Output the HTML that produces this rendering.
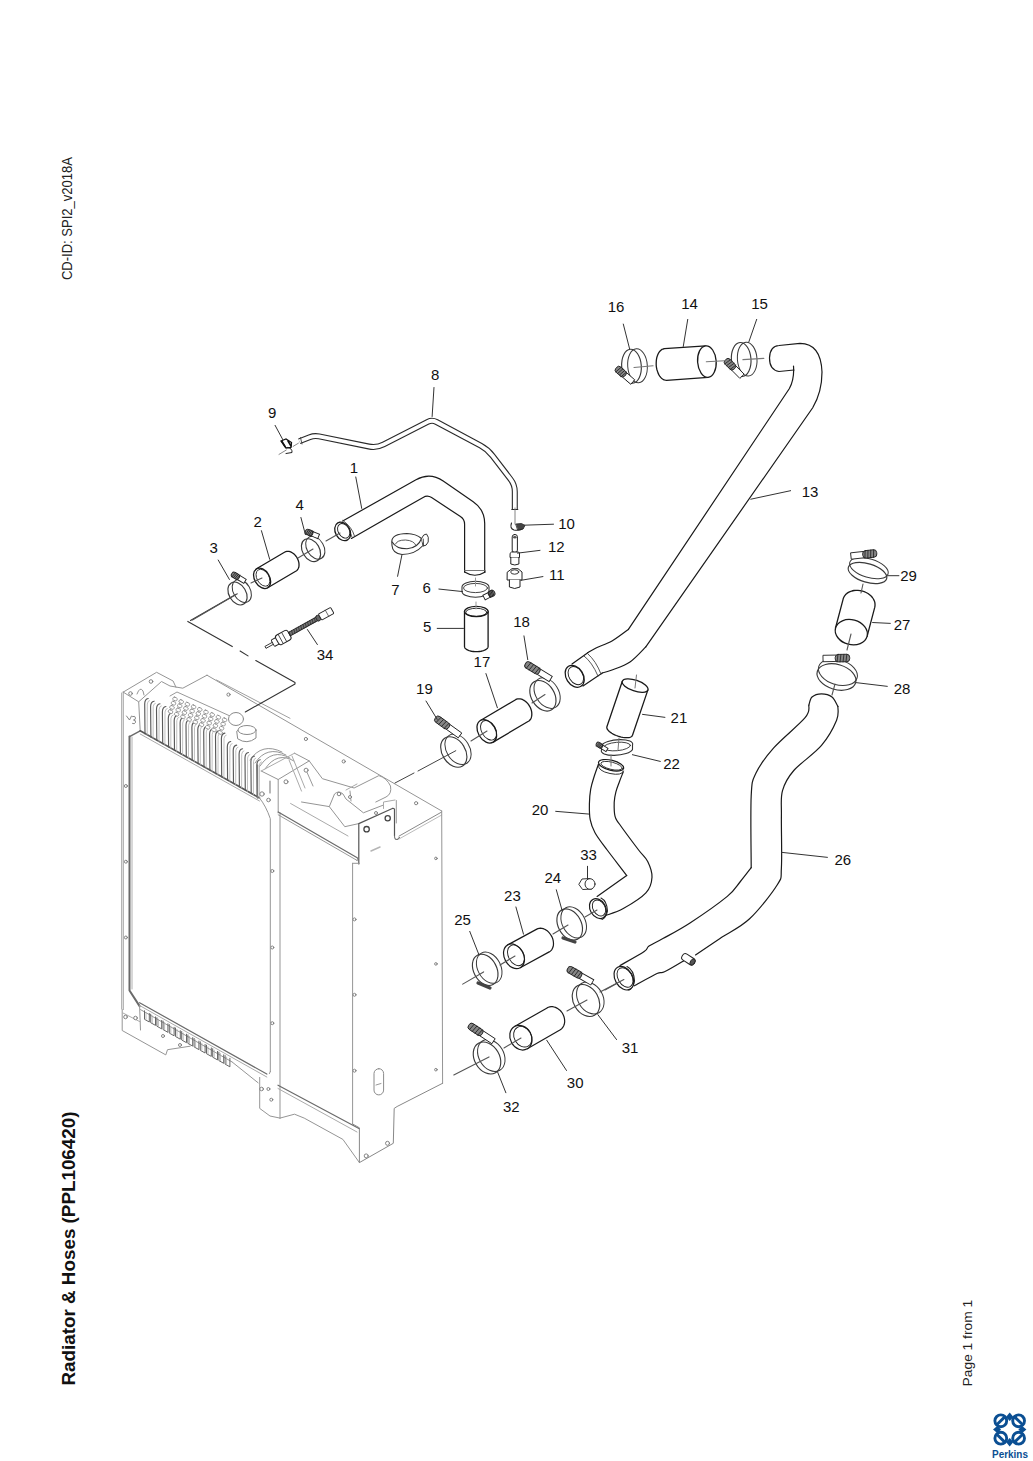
<!DOCTYPE html>
<html><head><meta charset="utf-8">
<style>
html,body{margin:0;padding:0;background:#fff;}
body{width:1033px;height:1461px;position:relative;overflow:hidden;font-family:"Liberation Sans",sans-serif;}
svg{position:absolute;left:0;top:0;}
</style></head>
<body>
<svg width="1033" height="1461" viewBox="0 0 1033 1461">
<g font-family="Liberation Sans, sans-serif">
<text transform="translate(72.1 280.1) rotate(-90)" font-size="14.2" fill="#222" textLength="123" lengthAdjust="spacingAndGlyphs">CD-ID: SPI2_v2018A</text>
<text transform="translate(75.2 1385.5) rotate(-90)" font-size="17.7" font-weight="bold" fill="#111" textLength="274" lengthAdjust="spacingAndGlyphs">Radiator &amp; Hoses (PPL106420)</text>
<text transform="translate(971.9 1386.4) rotate(-90)" font-size="13.4" fill="#222" textLength="86.6" lengthAdjust="spacingAndGlyphs">Page 1 from 1</text>
</g>
<g stroke-linecap="round">
<polyline points="123.2,692.1 123.2,1009.6" stroke="#959595" stroke-width="1.0" fill="none" stroke-linejoin="round"/>
<polyline points="121.5,693.0 121.5,1009.0" stroke="#b5b5b5" stroke-width="1.0" fill="none" stroke-linejoin="round"/>
<polyline points="123.2,692.1 156.6,672.3 173.1,681.0 176.0,687.3" stroke="#959595" stroke-width="1.0" fill="none" stroke-linejoin="round"/>
<polyline points="123.2,692.1 138.7,701.8 140.2,730.8" stroke="#959595" stroke-width="1.0" fill="none" stroke-linejoin="round"/>
<polyline points="138.7,701.8 161.5,681.5 170.0,686.0 182.8,688.2 207.0,675.2" stroke="#959595" stroke-width="1.0" fill="none" stroke-linejoin="round"/>
<circle cx="130.5" cy="693.5" r="1.8" fill="#fff" stroke="#777" stroke-width="0.9"/>
<circle cx="151.0" cy="681.5" r="1.8" fill="#fff" stroke="#777" stroke-width="0.9"/>
<path d="M137,694 q3,-8 6,-3 l1,4" stroke="#888" fill="none" stroke-width="0.9"/>
<path d="M126.5,716 l3,4 l2,-4 M132.5,716.5 q3,-1 3,1.5 q0,2 -2,2 q2.5,0 2,2.5 q-1,2 -3,1" stroke="#777" fill="none" stroke-width="0.9"/>
<circle cx="125.9" cy="786.0" r="1.5" fill="#fff" stroke="#777" stroke-width="0.9"/>
<circle cx="125.9" cy="861.7" r="1.5" fill="#fff" stroke="#777" stroke-width="0.9"/>
<circle cx="125.9" cy="937.5" r="1.5" fill="#fff" stroke="#777" stroke-width="0.9"/>
<polyline points="207.0,675.2 441.7,811.0" stroke="#959595" stroke-width="1.0" fill="none" stroke-linejoin="round"/>
<polyline points="216.5,680.0 290.0,718.3" stroke="#a0a0a0" stroke-width="1.0" fill="none" stroke-linejoin="round"/>
<circle cx="228.5" cy="694.6" r="1.6" fill="#fff" stroke="#777" stroke-width="0.9"/>
<circle cx="305.9" cy="739.0" r="1.6" fill="#fff" stroke="#777" stroke-width="0.9"/>
<circle cx="343.7" cy="761.4" r="1.6" fill="#fff" stroke="#777" stroke-width="0.9"/>
<circle cx="416.1" cy="803.2" r="1.6" fill="#fff" stroke="#777" stroke-width="0.9"/>
<polyline points="129.5,736.6 129.5,990.5 139.6,1006.1" stroke="#6a6a6a" stroke-width="2.0" fill="none" stroke-linejoin="round"/>
<polyline points="132.0,737.0 132.0,989.0" stroke="#b0b0b0" stroke-width="1.0" fill="none" stroke-linejoin="round"/>
<polyline points="129.5,736.6 140.2,730.8" stroke="#6a6a6a" stroke-width="1.4" fill="none" stroke-linejoin="round"/>
<polyline points="140.2,730.8 259.5,798.0" stroke="#555" stroke-width="1.6" fill="none" stroke-linejoin="round"/>
<polyline points="140.2,734.0 259.5,801.0" stroke="#aaa" stroke-width="1.0" fill="none" stroke-linejoin="round"/>
<path d="M259.5,798 Q266,806 270.3,818.7 L270.3,1071.6" stroke="#959595" stroke-width="1" fill="none"/>
<polyline points="280.0,812.9 280.0,1118.1" stroke="#959595" stroke-width="1.0" fill="none" stroke-linejoin="round"/>
<path d="M145.0,733.8 L144.7,704.0 Q144.8,699.0 148.2,698.5" stroke="#5a5a5a" stroke-width="1.15" fill="none"/>
<path d="M147.2,734.8 L147.3,704.0 Q147.8,700.5 149.5,700.5" stroke="#b0b0b0" stroke-width="0.8" fill="none"/>
<path d="M150.9,737.1 L150.6,706.7 Q150.7,701.7 154.1,701.2" stroke="#5a5a5a" stroke-width="1.15" fill="none"/>
<path d="M153.1,738.1 L153.2,706.7 Q153.7,703.2 155.4,703.2" stroke="#b0b0b0" stroke-width="0.8" fill="none"/>
<path d="M156.8,740.5 L156.5,709.3 Q156.6,704.3 160.0,703.8" stroke="#5a5a5a" stroke-width="1.15" fill="none"/>
<path d="M159.0,741.5 L159.1,709.3 Q159.6,705.8 161.3,705.8" stroke="#b0b0b0" stroke-width="0.8" fill="none"/>
<path d="M162.7,743.8 L162.4,712.0 Q162.5,707.0 165.9,706.5" stroke="#5a5a5a" stroke-width="1.15" fill="none"/>
<path d="M164.9,744.8 L165.0,712.0 Q165.5,708.5 167.2,708.5" stroke="#b0b0b0" stroke-width="0.8" fill="none"/>
<path d="M168.6,747.1 L168.3,718.5 Q168.4,713.5 171.8,713.0" stroke="#5a5a5a" stroke-width="1.15" fill="none"/>
<path d="M170.8,748.1 L170.9,718.5 Q171.4,715.0 173.1,715.0" stroke="#b0b0b0" stroke-width="0.8" fill="none"/>
<path d="M174.5,750.4 L174.2,720.7 Q174.3,715.7 177.7,715.2" stroke="#5a5a5a" stroke-width="1.15" fill="none"/>
<path d="M176.7,751.4 L176.8,720.7 Q177.3,717.2 179.0,717.2" stroke="#b0b0b0" stroke-width="0.8" fill="none"/>
<path d="M180.4,753.7 L180.1,723.0 Q180.2,718.0 183.6,717.5" stroke="#5a5a5a" stroke-width="1.15" fill="none"/>
<path d="M182.6,754.7 L182.7,723.0 Q183.2,719.5 184.9,719.5" stroke="#b0b0b0" stroke-width="0.8" fill="none"/>
<path d="M186.3,757.1 L186.0,725.2 Q186.1,720.2 189.5,719.7" stroke="#5a5a5a" stroke-width="1.15" fill="none"/>
<path d="M188.5,758.1 L188.6,725.2 Q189.1,721.7 190.8,721.7" stroke="#b0b0b0" stroke-width="0.8" fill="none"/>
<path d="M192.2,760.4 L191.9,727.4 Q192.0,722.4 195.4,721.9" stroke="#5a5a5a" stroke-width="1.15" fill="none"/>
<path d="M194.4,761.4 L194.5,727.4 Q195.0,723.9 196.7,723.9" stroke="#b0b0b0" stroke-width="0.8" fill="none"/>
<path d="M198.1,763.7 L197.8,729.7 Q197.9,724.7 201.3,724.2" stroke="#5a5a5a" stroke-width="1.15" fill="none"/>
<path d="M200.3,764.7 L200.4,729.7 Q200.9,726.2 202.6,726.2" stroke="#b0b0b0" stroke-width="0.8" fill="none"/>
<path d="M204.0,767.0 L203.7,731.9 Q203.8,726.9 207.2,726.4" stroke="#5a5a5a" stroke-width="1.15" fill="none"/>
<path d="M206.2,768.0 L206.3,731.9 Q206.8,728.4 208.5,728.4" stroke="#b0b0b0" stroke-width="0.8" fill="none"/>
<path d="M209.9,770.4 L209.6,734.2 Q209.7,729.2 213.1,728.7" stroke="#5a5a5a" stroke-width="1.15" fill="none"/>
<path d="M212.1,771.4 L212.2,734.2 Q212.7,730.7 214.4,730.7" stroke="#b0b0b0" stroke-width="0.8" fill="none"/>
<path d="M215.8,773.7 L215.5,736.4 Q215.6,731.4 219.0,730.9" stroke="#5a5a5a" stroke-width="1.15" fill="none"/>
<path d="M218.0,774.7 L218.1,736.4 Q218.6,732.9 220.3,732.9" stroke="#b0b0b0" stroke-width="0.8" fill="none"/>
<path d="M221.7,777.0 L221.4,738.6 Q221.5,733.6 224.9,733.1" stroke="#5a5a5a" stroke-width="1.15" fill="none"/>
<path d="M223.9,778.0 L224.0,738.6 Q224.5,735.1 226.2,735.1" stroke="#b0b0b0" stroke-width="0.8" fill="none"/>
<path d="M227.6,780.3 L227.3,747.0 Q227.4,742.0 230.8,741.5" stroke="#5a5a5a" stroke-width="1.15" fill="none"/>
<path d="M229.8,781.3 L229.9,747.0 Q230.4,743.5 232.1,743.5" stroke="#b0b0b0" stroke-width="0.8" fill="none"/>
<path d="M233.5,783.6 L233.2,750.6 Q233.3,745.6 236.7,745.1" stroke="#5a5a5a" stroke-width="1.15" fill="none"/>
<path d="M235.7,784.6 L235.8,750.6 Q236.3,747.1 238.0,747.1" stroke="#b0b0b0" stroke-width="0.8" fill="none"/>
<path d="M239.4,787.0 L239.1,754.3 Q239.2,749.3 242.6,748.8" stroke="#5a5a5a" stroke-width="1.15" fill="none"/>
<path d="M241.6,788.0 L241.7,754.3 Q242.2,750.8 243.9,750.8" stroke="#b0b0b0" stroke-width="0.8" fill="none"/>
<path d="M245.3,790.3 L245.0,758.0 Q245.1,753.0 248.5,752.5" stroke="#5a5a5a" stroke-width="1.15" fill="none"/>
<path d="M247.5,791.3 L247.6,758.0 Q248.1,754.5 249.8,754.5" stroke="#b0b0b0" stroke-width="0.8" fill="none"/>
<path d="M251.2,793.6 L250.9,761.6 Q251.0,756.6 254.4,756.1" stroke="#5a5a5a" stroke-width="1.15" fill="none"/>
<path d="M253.4,794.6 L253.5,761.6 Q254.0,758.1 255.7,758.1" stroke="#b0b0b0" stroke-width="0.8" fill="none"/>
<path d="M257.1,796.9 L256.8,765.3 Q256.9,760.3 260.3,759.8" stroke="#5a5a5a" stroke-width="1.15" fill="none"/>
<path d="M259.3,797.9 L259.4,765.3 Q259.9,761.8 261.6,761.8" stroke="#b0b0b0" stroke-width="0.8" fill="none"/>
<rect x="172.8" y="697.4" width="4.4" height="3.2" rx="1.2" transform="rotate(25 175.0 699.0)" fill="#fff" stroke="#8a8a8a" stroke-width="0.8"/>
<rect x="179.0" y="700.0" width="4.4" height="3.2" rx="1.2" transform="rotate(25 181.2 701.6)" fill="#fff" stroke="#8a8a8a" stroke-width="0.8"/>
<rect x="185.2" y="702.6" width="4.4" height="3.2" rx="1.2" transform="rotate(25 187.4 704.2)" fill="#fff" stroke="#8a8a8a" stroke-width="0.8"/>
<rect x="191.4" y="705.2" width="4.4" height="3.2" rx="1.2" transform="rotate(25 193.6 706.8)" fill="#fff" stroke="#8a8a8a" stroke-width="0.8"/>
<rect x="197.6" y="707.8" width="4.4" height="3.2" rx="1.2" transform="rotate(25 199.8 709.4)" fill="#fff" stroke="#8a8a8a" stroke-width="0.8"/>
<rect x="203.8" y="710.4" width="4.4" height="3.2" rx="1.2" transform="rotate(25 206.0 712.0)" fill="#fff" stroke="#8a8a8a" stroke-width="0.8"/>
<rect x="210.0" y="713.0" width="4.4" height="3.2" rx="1.2" transform="rotate(25 212.2 714.6)" fill="#fff" stroke="#8a8a8a" stroke-width="0.8"/>
<rect x="216.2" y="715.6" width="4.4" height="3.2" rx="1.2" transform="rotate(25 218.4 717.2)" fill="#fff" stroke="#8a8a8a" stroke-width="0.8"/>
<rect x="222.4" y="718.2" width="4.4" height="3.2" rx="1.2" transform="rotate(25 224.6 719.8)" fill="#fff" stroke="#8a8a8a" stroke-width="0.8"/>
<rect x="171.3" y="701.6" width="4.4" height="3.2" rx="1.2" transform="rotate(25 173.5 703.2)" fill="#fff" stroke="#8a8a8a" stroke-width="0.8"/>
<rect x="177.5" y="704.2" width="4.4" height="3.2" rx="1.2" transform="rotate(25 179.7 705.8)" fill="#fff" stroke="#8a8a8a" stroke-width="0.8"/>
<rect x="183.7" y="706.8" width="4.4" height="3.2" rx="1.2" transform="rotate(25 185.9 708.4)" fill="#fff" stroke="#8a8a8a" stroke-width="0.8"/>
<rect x="189.9" y="709.4" width="4.4" height="3.2" rx="1.2" transform="rotate(25 192.1 711.0)" fill="#fff" stroke="#8a8a8a" stroke-width="0.8"/>
<rect x="196.1" y="712.0" width="4.4" height="3.2" rx="1.2" transform="rotate(25 198.3 713.6)" fill="#fff" stroke="#8a8a8a" stroke-width="0.8"/>
<rect x="202.3" y="714.6" width="4.4" height="3.2" rx="1.2" transform="rotate(25 204.5 716.2)" fill="#fff" stroke="#8a8a8a" stroke-width="0.8"/>
<rect x="208.5" y="717.2" width="4.4" height="3.2" rx="1.2" transform="rotate(25 210.7 718.8)" fill="#fff" stroke="#8a8a8a" stroke-width="0.8"/>
<rect x="214.7" y="719.8" width="4.4" height="3.2" rx="1.2" transform="rotate(25 216.9 721.4)" fill="#fff" stroke="#8a8a8a" stroke-width="0.8"/>
<rect x="220.9" y="722.4" width="4.4" height="3.2" rx="1.2" transform="rotate(25 223.1 724.0)" fill="#fff" stroke="#8a8a8a" stroke-width="0.8"/>
<rect x="169.8" y="705.8" width="4.4" height="3.2" rx="1.2" transform="rotate(25 172.0 707.4)" fill="#fff" stroke="#8a8a8a" stroke-width="0.8"/>
<rect x="176.0" y="708.4" width="4.4" height="3.2" rx="1.2" transform="rotate(25 178.2 710.0)" fill="#fff" stroke="#8a8a8a" stroke-width="0.8"/>
<rect x="182.2" y="711.0" width="4.4" height="3.2" rx="1.2" transform="rotate(25 184.4 712.6)" fill="#fff" stroke="#8a8a8a" stroke-width="0.8"/>
<rect x="188.4" y="713.6" width="4.4" height="3.2" rx="1.2" transform="rotate(25 190.6 715.2)" fill="#fff" stroke="#8a8a8a" stroke-width="0.8"/>
<rect x="194.6" y="716.2" width="4.4" height="3.2" rx="1.2" transform="rotate(25 196.8 717.8)" fill="#fff" stroke="#8a8a8a" stroke-width="0.8"/>
<rect x="200.8" y="718.8" width="4.4" height="3.2" rx="1.2" transform="rotate(25 203.0 720.4)" fill="#fff" stroke="#8a8a8a" stroke-width="0.8"/>
<rect x="207.0" y="721.4" width="4.4" height="3.2" rx="1.2" transform="rotate(25 209.2 723.0)" fill="#fff" stroke="#8a8a8a" stroke-width="0.8"/>
<rect x="213.2" y="724.0" width="4.4" height="3.2" rx="1.2" transform="rotate(25 215.4 725.6)" fill="#fff" stroke="#8a8a8a" stroke-width="0.8"/>
<rect x="219.4" y="726.6" width="4.4" height="3.2" rx="1.2" transform="rotate(25 221.6 728.2)" fill="#fff" stroke="#8a8a8a" stroke-width="0.8"/>
<rect x="168.3" y="710.0" width="4.4" height="3.2" rx="1.2" transform="rotate(25 170.5 711.6)" fill="#fff" stroke="#8a8a8a" stroke-width="0.8"/>
<rect x="174.5" y="712.6" width="4.4" height="3.2" rx="1.2" transform="rotate(25 176.7 714.2)" fill="#fff" stroke="#8a8a8a" stroke-width="0.8"/>
<rect x="180.7" y="715.2" width="4.4" height="3.2" rx="1.2" transform="rotate(25 182.9 716.8)" fill="#fff" stroke="#8a8a8a" stroke-width="0.8"/>
<rect x="186.9" y="717.8" width="4.4" height="3.2" rx="1.2" transform="rotate(25 189.1 719.4)" fill="#fff" stroke="#8a8a8a" stroke-width="0.8"/>
<rect x="193.1" y="720.4" width="4.4" height="3.2" rx="1.2" transform="rotate(25 195.3 722.0)" fill="#fff" stroke="#8a8a8a" stroke-width="0.8"/>
<rect x="199.3" y="723.0" width="4.4" height="3.2" rx="1.2" transform="rotate(25 201.5 724.6)" fill="#fff" stroke="#8a8a8a" stroke-width="0.8"/>
<rect x="205.5" y="725.6" width="4.4" height="3.2" rx="1.2" transform="rotate(25 207.7 727.2)" fill="#fff" stroke="#8a8a8a" stroke-width="0.8"/>
<rect x="211.7" y="728.2" width="4.4" height="3.2" rx="1.2" transform="rotate(25 213.9 729.8)" fill="#fff" stroke="#8a8a8a" stroke-width="0.8"/>
<rect x="217.9" y="730.8" width="4.4" height="3.2" rx="1.2" transform="rotate(25 220.1 732.4)" fill="#fff" stroke="#8a8a8a" stroke-width="0.8"/>
<polyline points="170.0,696.0 177.0,692.0 230.0,716.0" stroke="#999" stroke-width="1.0" fill="none" stroke-linejoin="round"/>
<path d="M250.0,760.0 Q262.0,742.0 282.0,752.0" stroke="#8a8a8a" stroke-width="0.9" fill="none"/>
<path d="M255.0,763.0 Q267.0,745.0 286.0,755.0" stroke="#8a8a8a" stroke-width="0.9" fill="none"/>
<path d="M260.0,766.0 Q272.0,748.0 290.0,758.0" stroke="#8a8a8a" stroke-width="0.9" fill="none"/>
<path d="M265.0,769.0 Q277.0,751.0 294.0,761.0" stroke="#8a8a8a" stroke-width="0.9" fill="none"/>
<polyline points="257.5,765.0 257.5,798.0" stroke="#777" stroke-width="1.3" fill="none" stroke-linejoin="round"/>
<polyline points="261.2,771.0 278.2,779.5 309.2,760.9" stroke="#959595" stroke-width="1.0" fill="none" stroke-linejoin="round"/>
<polyline points="261.2,771.0 294.5,753.2" stroke="#aaa" stroke-width="1.0" fill="none" stroke-linejoin="round"/>
<polyline points="278.2,779.5 278.2,812.9" stroke="#959595" stroke-width="1.0" fill="none" stroke-linejoin="round"/>
<circle cx="262.0" cy="794.0" r="2.2" fill="#fff" stroke="#777" stroke-width="0.9"/>
<circle cx="268.5" cy="800.0" r="1.8" fill="#fff" stroke="#777" stroke-width="0.9"/>
<path d="M270,781 l0,12" stroke="#888" stroke-width="1.2"/>
<ellipse cx="236" cy="719" rx="7.5" ry="6.5" fill="#fff" stroke="#8a8a8a" stroke-width="1"/>
<path d="M237,731 q9,-8 19,-1 l0,8 q-9,7 -18,1 z" fill="#fff" stroke="#8a8a8a" stroke-width="1"/>
<ellipse cx="247" cy="730" rx="9" ry="4.5" fill="#fff" stroke="#8a8a8a" stroke-width="1"/>
<path d="M294.5,753.2 L309.2,760.9 L322.4,778.7 L354.1,788 L378.9,775.6 Q386.7,778 390.5,786 Q392,794 386,797 L375.8,802" stroke="#959595" stroke-width="1" fill="none"/>
<path d="M301.5,802 L329.3,806.6 L334.5,794 Q338.5,790 343,794 L346,799 L363.4,812.8 L383.6,805" stroke="#959595" stroke-width="1" fill="none"/>
<polyline points="329.3,806.6 344.8,826.7 358.8,823.6" stroke="#959595" stroke-width="1.0" fill="none" stroke-linejoin="round"/>
<polyline points="290.6,803.5 348.0,836.0" stroke="#aaa" stroke-width="1.0" fill="none" stroke-linejoin="round"/>
<polyline points="289.1,760.1 301.5,791.1" stroke="#aaa" stroke-width="1.0" fill="none" stroke-linejoin="round"/>
<polyline points="292.0,756.0 305.0,788.0" stroke="#aaa" stroke-width="1.0" fill="none" stroke-linejoin="round"/>
<polyline points="306.0,770.0 313.0,786.0" stroke="#999" stroke-width="1.0" fill="none" stroke-linejoin="round"/>
<polyline points="350.0,791.0 351.0,801.0" stroke="#999" stroke-width="1.0" fill="none" stroke-linejoin="round"/>
<polyline points="346.0,790.0 357.0,784.0" stroke="#aaa" stroke-width="1.0" fill="none" stroke-linejoin="round"/>
<circle cx="286.0" cy="781.8" r="2.0" fill="#fff" stroke="#777" stroke-width="0.9"/>
<circle cx="306.1" cy="770.2" r="2.0" fill="#fff" stroke="#777" stroke-width="0.9"/>
<circle cx="339.0" cy="794.0" r="1.8" fill="#fff" stroke="#777" stroke-width="0.9"/>
<circle cx="350.0" cy="797.0" r="1.5" fill="#fff" stroke="#777" stroke-width="0.9"/>
<circle cx="376.0" cy="813.0" r="1.5" fill="#fff" stroke="#777" stroke-width="0.9"/>
<polyline points="278.2,812.0 357.2,857.7" stroke="#6a6a6a" stroke-width="1.2" fill="none" stroke-linejoin="round"/>
<polyline points="278.2,814.8 357.2,860.5" stroke="#999" stroke-width="1.0" fill="none" stroke-linejoin="round"/>
<path d="M357.2,857.7 q2,1.5 0,2.8" stroke="#777" stroke-width="1" fill="none"/>
<polyline points="358.8,863.9 358.8,823.6 392.9,808.2 394.5,809.0 394.5,836.0" stroke="#555" stroke-width="1.2" fill="none" stroke-linejoin="round"/>
<path d="M394.5,836 q0,4 3,3.5 l2,-2" stroke="#777" stroke-width="1.1" fill="none"/>
<circle cx="366.6" cy="829.2" r="2.7" fill="#fff" stroke="#444" stroke-width="1.3"/><circle cx="387.7" cy="818.2" r="2.6" fill="#fff" stroke="#444" stroke-width="1.3"/>
<polyline points="396.3,800.5 396.3,823.0" stroke="#999" stroke-width="1.0" fill="none" stroke-linejoin="round"/>
<polyline points="383.5,808.5 383.5,802.0 395.0,800.0" stroke="#aaa" stroke-width="1.0" fill="none" stroke-linejoin="round"/>
<path d="M371,851 l9,-4" stroke="#b5b5b5" stroke-width="1.5"/>
<polyline points="399.0,836.1 441.7,812.0" stroke="#888" stroke-width="1.0" fill="none" stroke-linejoin="round"/>
<polyline points="399.0,839.0 441.7,815.0" stroke="#bbb" stroke-width="1.0" fill="none" stroke-linejoin="round"/>
<polyline points="352.6,863.3 359.4,863.3" stroke="#959595" stroke-width="1.0" fill="none" stroke-linejoin="round"/>
<polyline points="352.6,863.3 352.6,1124.0" stroke="#959595" stroke-width="1.0" fill="none" stroke-linejoin="round"/>
<polyline points="441.7,811.0 442.6,1083.3" stroke="#959595" stroke-width="1.0" fill="none" stroke-linejoin="round"/>
<circle cx="272.3" cy="871.0" r="1.5" fill="#fff" stroke="#777" stroke-width="0.9"/>
<circle cx="272.3" cy="947.5" r="1.5" fill="#fff" stroke="#777" stroke-width="0.9"/>
<circle cx="354.5" cy="919.4" r="1.5" fill="#fff" stroke="#777" stroke-width="0.9"/>
<circle cx="435.9" cy="858.4" r="1.3" fill="#fff" stroke="#777" stroke-width="0.9"/>
<circle cx="435.9" cy="963.9" r="1.3" fill="#fff" stroke="#777" stroke-width="0.9"/>
<circle cx="272.3" cy="1023.2" r="1.5" fill="#fff" stroke="#777" stroke-width="0.9"/>
<circle cx="354.5" cy="1070.7" r="1.5" fill="#fff" stroke="#777" stroke-width="0.9"/>
<circle cx="435.9" cy="1069.7" r="1.3" fill="#fff" stroke="#777" stroke-width="0.9"/>
<circle cx="354.5" cy="994.8" r="1.5" fill="#fff" stroke="#777" stroke-width="0.9"/>
<polyline points="139.6,1002.7 266.8,1074.1" stroke="#6a6a6a" stroke-width="1.2" fill="none" stroke-linejoin="round"/>
<polyline points="139.6,1005.5 266.8,1077.0" stroke="#aaa" stroke-width="1.0" fill="none" stroke-linejoin="round"/>
<polyline points="140.5,1009.6 232.0,1061.9" stroke="#959595" stroke-width="1.0" fill="none" stroke-linejoin="round"/>
<polyline points="232.0,1061.9 258.1,1082.8" stroke="#959595" stroke-width="1.0" fill="none" stroke-linejoin="round"/>
<polyline points="139.6,1006.1 140.5,1030.0" stroke="#959595" stroke-width="1.0" fill="none" stroke-linejoin="round"/>
<path d="M144.5,1010.8 l0,8.5 l4.8,2.7 l0,-8.5" stroke="#666" stroke-width="1.0" fill="none"/>
<path d="M146.0,1012.3 l0,7" stroke="#aaa" stroke-width="0.8" fill="none"/>
<path d="M150.7,1014.2 l0,8.5 l4.8,2.7 l0,-8.5" stroke="#666" stroke-width="1.0" fill="none"/>
<path d="M152.2,1015.7 l0,7" stroke="#aaa" stroke-width="0.8" fill="none"/>
<path d="M156.9,1017.7 l0,8.5 l4.8,2.7 l0,-8.5" stroke="#666" stroke-width="1.0" fill="none"/>
<path d="M158.4,1019.2 l0,7" stroke="#aaa" stroke-width="0.8" fill="none"/>
<path d="M163.1,1021.1 l0,8.5 l4.8,2.7 l0,-8.5" stroke="#666" stroke-width="1.0" fill="none"/>
<path d="M164.6,1022.6 l0,7" stroke="#aaa" stroke-width="0.8" fill="none"/>
<path d="M169.3,1024.6 l0,8.5 l4.8,2.7 l0,-8.5" stroke="#666" stroke-width="1.0" fill="none"/>
<path d="M170.8,1026.1 l0,7" stroke="#aaa" stroke-width="0.8" fill="none"/>
<path d="M175.5,1028.0 l0,8.5 l4.8,2.7 l0,-8.5" stroke="#666" stroke-width="1.0" fill="none"/>
<path d="M177.0,1029.5 l0,7" stroke="#aaa" stroke-width="0.8" fill="none"/>
<path d="M181.7,1031.5 l0,8.5 l4.8,2.7 l0,-8.5" stroke="#666" stroke-width="1.0" fill="none"/>
<path d="M183.2,1033.0 l0,7" stroke="#aaa" stroke-width="0.8" fill="none"/>
<path d="M187.9,1034.9 l0,8.5 l4.8,2.7 l0,-8.5" stroke="#666" stroke-width="1.0" fill="none"/>
<path d="M189.4,1036.4 l0,7" stroke="#aaa" stroke-width="0.8" fill="none"/>
<path d="M194.1,1038.4 l0,8.5 l4.8,2.7 l0,-8.5" stroke="#666" stroke-width="1.0" fill="none"/>
<path d="M195.6,1039.9 l0,7" stroke="#aaa" stroke-width="0.8" fill="none"/>
<path d="M200.3,1041.8 l0,8.5 l4.8,2.7 l0,-8.5" stroke="#666" stroke-width="1.0" fill="none"/>
<path d="M201.8,1043.3 l0,7" stroke="#aaa" stroke-width="0.8" fill="none"/>
<path d="M206.5,1045.2 l0,8.5 l4.8,2.7 l0,-8.5" stroke="#666" stroke-width="1.0" fill="none"/>
<path d="M208.0,1046.8 l0,7" stroke="#aaa" stroke-width="0.8" fill="none"/>
<path d="M212.7,1048.7 l0,8.5 l4.8,2.7 l0,-8.5" stroke="#666" stroke-width="1.0" fill="none"/>
<path d="M214.2,1050.2 l0,7" stroke="#aaa" stroke-width="0.8" fill="none"/>
<path d="M218.9,1052.1 l0,8.5 l4.8,2.7 l0,-8.5" stroke="#666" stroke-width="1.0" fill="none"/>
<path d="M220.4,1053.6 l0,7" stroke="#aaa" stroke-width="0.8" fill="none"/>
<path d="M225.1,1055.6 l0,8.5 l4.8,2.7 l0,-8.5" stroke="#666" stroke-width="1.0" fill="none"/>
<path d="M226.6,1057.1 l0,7" stroke="#aaa" stroke-width="0.8" fill="none"/>
<polyline points="122.2,1009.6 122.2,1030.5 165.8,1054.9 167.5,1049.7 190.2,1046.2" stroke="#959595" stroke-width="1.0" fill="none" stroke-linejoin="round"/>
<polyline points="123.0,1013.0 140.5,1022.0" stroke="#aaa" stroke-width="1.0" fill="none" stroke-linejoin="round"/>
<circle cx="125.5" cy="1017.0" r="1.8" fill="#fff" stroke="#777" stroke-width="0.9"/>
<circle cx="135.5" cy="1018.0" r="1.8" fill="#fff" stroke="#777" stroke-width="0.9"/>
<circle cx="163.0" cy="1036.0" r="1.5" fill="#fff" stroke="#777" stroke-width="0.9"/>
<circle cx="180.0" cy="1045.0" r="1.5" fill="#fff" stroke="#777" stroke-width="0.9"/>
<polyline points="259.7,1077.4 259.7,1108.4 270.0,1116.0 280.0,1118.1" stroke="#959595" stroke-width="1.0" fill="none" stroke-linejoin="round"/>
<polyline points="269.4,1073.6 270.3,1071.6" stroke="#959595" stroke-width="1.0" fill="none" stroke-linejoin="round"/>
<circle cx="261.6" cy="1089.0" r="1.8" fill="#fff" stroke="#777" stroke-width="0.9"/>
<circle cx="268.4" cy="1089.0" r="1.5" fill="#fff" stroke="#777" stroke-width="0.9"/>
<circle cx="271.3" cy="1099.7" r="1.5" fill="#fff" stroke="#777" stroke-width="0.9"/>
<polyline points="278.0,1085.2 359.4,1128.7" stroke="#6a6a6a" stroke-width="1.2" fill="none" stroke-linejoin="round"/>
<polyline points="278.0,1088.5 357.0,1132.0" stroke="#aaa" stroke-width="1.0" fill="none" stroke-linejoin="round"/>
<polyline points="280.0,1118.1 294.5,1114.2 304.2,1118.1 342.9,1139.4 359.4,1162.6" stroke="#959595" stroke-width="1.0" fill="none" stroke-linejoin="round"/>
<polyline points="352.6,1124.0 359.4,1127.8 359.4,1162.6 393.3,1143.3 394.2,1108.4 397.1,1106.5 442.6,1083.3" stroke="#888" stroke-width="1.0" fill="none" stroke-linejoin="round"/>
<circle cx="366.2" cy="1155.9" r="2.0" fill="#fff" stroke="#777" stroke-width="0.9"/>
<circle cx="387.5" cy="1143.3" r="2.0" fill="#fff" stroke="#777" stroke-width="0.9"/>
<rect x="374" y="1068.7" width="9.6" height="26.2" rx="4.8" fill="none" stroke="#8a8a8a" stroke-width="1"/>
<path d="M376,1085 l5,-1.5" stroke="#999" stroke-width="1"/>
<polyline points="235.8,594.4 190.5,620.5" stroke="#333" stroke-width="1.1" fill="none" stroke-linejoin="round"/>
<polyline points="187.8,621.4 232.3,646.6" stroke="#333" stroke-width="1.1" fill="none" stroke-linejoin="round"/>
<polyline points="240.1,651.0 248.0,655.9" stroke="#333" stroke-width="1.1" fill="none" stroke-linejoin="round"/>
<polyline points="255.8,660.6 295.0,682.4 295.0,684.1 245.3,712.0" stroke="#333" stroke-width="1.1" fill="none" stroke-linejoin="round"/>
<polyline points="455.8,750.7 418.0,771.0" stroke="#444" stroke-width="1.0" fill="none" stroke-linejoin="round"/>
<polyline points="414.0,773.0 395.0,783.0" stroke="#444" stroke-width="1.0" fill="none" stroke-linejoin="round"/>
<path d="M794,370 L779,371.5 Q769.5,370 769.5,358 Q770,346 779,345.5 L800,343.3 Q821,343.5 822,372 Q822,392 812.7,407.8 L645.8,646.9" stroke="#1a1a1a" stroke-width="1.2" fill="none" />
<path d="M645.8,646.9 C643.2,649.4 635.6,658.1 630.0,662.0 C624.4,665.9 616.6,668.2 612.0,670.0 C607.4,671.8 603.9,672.5 602.3,673.0" stroke="#1a1a1a" stroke-width="1.2" fill="none" />
<path d="M793.5,366 Q794.5,379 789.4,388.5 L628.4,629.4" stroke="#1a1a1a" stroke-width="1.2" fill="none" />
<path d="M628.4,629.4 C625.7,631.3 617.4,637.9 612.0,641.0 C606.6,644.1 600.0,646.0 596.0,648.0 C592.0,650.0 589.2,651.9 587.8,652.7" stroke="#1a1a1a" stroke-width="1.2" fill="none" />
<path d="M587.8,652.7 L572,664 M602.3,673 L583,686" stroke="#1a1a1a" stroke-width="1.2" fill="none"/>
<path d="M584,656 Q592,662 598,676 M588,654 Q596,661 601,674" stroke="#444" stroke-width="0.9" fill="none"/>
<ellipse cx="574.7" cy="676.3" rx="8.5" ry="11.8" transform="rotate(-32.0 574.7 676.3)" stroke="#1a1a1a" stroke-width="1.3" fill="#fff"/>
<ellipse cx="575.8" cy="675.6" rx="6.8" ry="9.8" transform="rotate(-32.0 575.8 675.6)" stroke="#1a1a1a" stroke-width="0.9" fill="none"/>
<polygon points="705.8,345.8 664.4,348.7 663.2,349.0 662.0,349.4 660.9,350.2 659.9,351.2 659.0,352.4 658.2,353.8 657.5,355.4 656.9,357.2 656.5,359.1 656.3,361.0 656.2,363.1 656.2,365.1 656.4,367.2 656.8,369.2 657.4,371.1 658.0,372.9 658.8,374.6 659.7,376.1 660.7,377.4 661.8,378.5 663.0,379.3 664.2,379.9 665.4,380.2 666.6,380.3 708.0,377.4" fill="#fff" stroke="none"/>
<polyline points="705.8,345.8 664.4,348.7 663.2,349.0 662.0,349.4 660.9,350.2 659.9,351.2 659.0,352.4 658.2,353.8 657.5,355.4 656.9,357.2 656.5,359.1 656.3,361.0 656.2,363.1 656.2,365.1 656.4,367.2 656.8,369.2 657.4,371.1 658.0,372.9 658.8,374.6 659.7,376.1 660.7,377.4 661.8,378.5 663.0,379.3 664.2,379.9 665.4,380.2 666.6,380.3 708.0,377.4" stroke="#1a1a1a" stroke-width="1.3" fill="none" stroke-linejoin="round"/>
<ellipse cx="706.9" cy="361.6" rx="15.8" ry="9.3" transform="rotate(-94.0 706.9 361.6)" stroke="#1a1a1a" stroke-width="1.3" fill="#fff"/>
<ellipse cx="637.5" cy="365.8" rx="17.0" ry="9.8" transform="rotate(86.0 637.5 365.8)" stroke="#3a3a3a" stroke-width="1.0" fill="none"/>
<ellipse cx="631.5" cy="366.2" rx="17.0" ry="9.8" transform="rotate(86.0 631.5 366.2)" stroke="#3a3a3a" stroke-width="1.15" fill="none"/>
<g transform="translate(632.5 381.8) rotate(-139.2)"><rect x="0" y="-3.0" width="10.7" height="6.0" fill="#fff" stroke="#222" stroke-width="0.9"/><rect x="9.6" y="-3.5" width="11.8" height="7.0" rx="2.8" fill="#858585" stroke="#222" stroke-width="0.9"/><line x1="11.9" y1="-3.5" x2="10.9" y2="3.5" stroke="#222" stroke-width="0.8"/><line x1="14.3" y1="-3.5" x2="13.3" y2="3.5" stroke="#222" stroke-width="0.8"/><line x1="16.7" y1="-3.5" x2="15.7" y2="3.5" stroke="#222" stroke-width="0.8"/><line x1="19.1" y1="-3.5" x2="18.1" y2="3.5" stroke="#222" stroke-width="0.8"/></g>
<ellipse cx="747.2" cy="359.1" rx="17.0" ry="9.8" transform="rotate(86.0 747.2 359.1)" stroke="#3a3a3a" stroke-width="1.0" fill="none"/>
<ellipse cx="741.2" cy="359.5" rx="17.0" ry="9.8" transform="rotate(86.0 741.2 359.5)" stroke="#3a3a3a" stroke-width="1.15" fill="none"/>
<g transform="translate(741.7 376.0) rotate(-134.8)"><rect x="0" y="-3.0" width="11.5" height="6.0" fill="#fff" stroke="#222" stroke-width="0.9"/><rect x="10.3" y="-3.5" width="12.6" height="7.0" rx="2.8" fill="#858585" stroke="#222" stroke-width="0.9"/><line x1="12.8" y1="-3.5" x2="11.8" y2="3.5" stroke="#222" stroke-width="0.8"/><line x1="15.4" y1="-3.5" x2="14.4" y2="3.5" stroke="#222" stroke-width="0.8"/><line x1="18.0" y1="-3.5" x2="17.0" y2="3.5" stroke="#222" stroke-width="0.8"/><line x1="20.5" y1="-3.5" x2="19.5" y2="3.5" stroke="#222" stroke-width="0.8"/></g>
<polyline points="634.0,367.5 653.1,365.7" stroke="#777" stroke-width="1.1" fill="none" stroke-linejoin="round"/>
<polyline points="706.3,361.7 724.6,360.8" stroke="#777" stroke-width="1.1" fill="none" stroke-linejoin="round"/>
<polyline points="742.9,359.6 763.8,358.4" stroke="#777" stroke-width="1.1" fill="none" stroke-linejoin="round"/>
<path d="M299.3,441.3 L309.6,437.2 Q314.2,435.4 319.1,436.4 L368.8,446.5 Q376.6,448.1 383.7,444.4 L427.7,421.9 Q432.1,419.6 436.5,422.0 L480.7,445.7 Q487.7,449.5 492.6,455.8 L510.5,479.2 Q514.8,484.7 514.8,491.7 L514.8,509.5" stroke="#2a2a2a" stroke-width="6.0" fill="none" stroke-linecap="butt"/>
<path d="M299.3,441.3 L309.6,437.2 Q314.2,435.4 319.1,436.4 L368.8,446.5 Q376.6,448.1 383.7,444.4 L427.7,421.9 Q432.1,419.6 436.5,422.0 L480.7,445.7 Q487.7,449.5 492.6,455.8 L510.5,479.2 Q514.8,484.7 514.8,491.7 L514.8,509.5" stroke="#fff" stroke-width="3.8" fill="none" stroke-linecap="butt"/>
<path d="M511.8,509.5 L517.8,509.5" stroke="#2a2a2a" stroke-width="1.1"/>
<polyline points="300.5,437.6 302.0,444.0" stroke="#444" stroke-width="0.9" fill="none" stroke-linejoin="round"/>
<path d="M281,441 L286,439 L291.5,442.5 L291,447.5 L286,448 Z" fill="#fff" stroke="#111" stroke-width="1.3"/>
<path d="M282,441.5 l3,5 M288,441 l3,5" stroke="#111" stroke-width="1.6"/>
<path d="M288,447.5 q4.5,1 4,5 l-6,1" stroke="#222" fill="none" stroke-width="1.0"/>
<polyline points="279.0,454.4 286.3,450.0" stroke="#888" stroke-width="1.0" fill="none" stroke-linejoin="round"/>
<polyline points="293.1,446.4 298.4,443.2" stroke="#888" stroke-width="1.0" fill="none" stroke-linejoin="round"/>
<path d="M342.7,521.0 L416.0,479.8 Q430.0,472.0 443.2,481.1 L473.2,501.7 Q484.7,509.6 484.7,523.6 L484.7,572.0" stroke="#1a1a1a" stroke-width="1.2" fill="none" />
<path d="M351.4,538.4 L423.1,497.4 Q427.4,494.9 431.6,497.6 L460.4,516.5 Q464.6,519.2 464.6,524.2 L464.6,572.0" stroke="#1a1a1a" stroke-width="1.2" fill="none" />
<path d="M464.6,572 Q474.9,578.5 485.2,572" stroke="#1a1a1a" stroke-width="1.2" fill="none" />
<polyline points="464.6,570.5 485.2,570.5" stroke="#666" stroke-width="0.9" fill="none" stroke-linejoin="round"/>
<path d="M340,522 Q349,528 352,537 M343,520.5 Q352,527 354.5,536" stroke="#444" stroke-width="0.9" fill="none"/>
<ellipse cx="342.7" cy="531.4" rx="7.3" ry="9.8" transform="rotate(-30.0 342.7 531.4)" stroke="#1a1a1a" stroke-width="1.3" fill="#fff"/>
<ellipse cx="343.7" cy="530.8" rx="5.5" ry="7.8" transform="rotate(-30.0 343.7 530.8)" stroke="#1a1a1a" stroke-width="0.9" fill="none"/>
<polygon points="267.7,587.8 296.1,571.0 296.9,570.4 297.6,569.7 298.1,568.8 298.6,567.8 298.9,566.7 299.0,565.5 299.0,564.2 298.9,562.9 298.6,561.6 298.2,560.3 297.6,558.9 297.0,557.7 296.2,556.5 295.3,555.4 294.3,554.3 293.3,553.5 292.2,552.7 291.1,552.1 290.0,551.7 288.9,551.4 287.8,551.3 286.8,551.4 285.8,551.6 284.9,552.0 256.5,568.8" fill="#fff" stroke="none"/>
<polyline points="267.7,587.8 296.1,571.0 296.9,570.4 297.6,569.7 298.1,568.8 298.6,567.8 298.9,566.7 299.0,565.5 299.0,564.2 298.9,562.9 298.6,561.6 298.2,560.3 297.6,558.9 297.0,557.7 296.2,556.5 295.3,555.4 294.3,554.3 293.3,553.5 292.2,552.7 291.1,552.1 290.0,551.7 288.9,551.4 287.8,551.3 286.8,551.4 285.8,551.6 284.9,552.0 256.5,568.8" stroke="#1a1a1a" stroke-width="1.3" fill="none" stroke-linejoin="round"/>
<ellipse cx="262.1" cy="578.3" rx="11.0" ry="7.5" transform="rotate(59.4 262.1 578.3)" stroke="#1a1a1a" stroke-width="1.3" fill="#fff"/>
<ellipse cx="263.0" cy="577.8" rx="9.2" ry="6.0" transform="rotate(59.5 263.0 577.8)" stroke="#1a1a1a" stroke-width="0.8" fill="none"/>
<ellipse cx="241.8" cy="591.0" rx="12.3" ry="8.5" transform="rotate(59.5 241.8 591.0)" stroke="#3a3a3a" stroke-width="1.0" fill="none"/>
<ellipse cx="237.5" cy="593.5" rx="12.3" ry="8.5" transform="rotate(59.5 237.5 593.5)" stroke="#3a3a3a" stroke-width="1.15" fill="none"/>
<g transform="translate(245.0 581.4) rotate(-149.2)"><rect x="0" y="-2.3" width="7.6" height="4.7" fill="#fff" stroke="#222" stroke-width="0.9"/><rect x="6.9" y="-2.8" width="8.4" height="5.5" rx="2.2" fill="#858585" stroke="#222" stroke-width="0.9"/><line x1="8.5" y1="-2.8" x2="7.5" y2="2.8" stroke="#222" stroke-width="0.8"/><line x1="10.2" y1="-2.8" x2="9.2" y2="2.8" stroke="#222" stroke-width="0.8"/><line x1="11.9" y1="-2.8" x2="10.9" y2="2.8" stroke="#222" stroke-width="0.8"/><line x1="13.6" y1="-2.8" x2="12.6" y2="2.8" stroke="#222" stroke-width="0.8"/></g>
<ellipse cx="315.3" cy="547.7" rx="12.3" ry="8.5" transform="rotate(59.5 315.3 547.7)" stroke="#3a3a3a" stroke-width="1.0" fill="none"/>
<ellipse cx="311.0" cy="550.2" rx="12.3" ry="8.5" transform="rotate(59.5 311.0 550.2)" stroke="#3a3a3a" stroke-width="1.15" fill="none"/>
<g transform="translate(318.6 536.5) rotate(-157.2)"><rect x="0" y="-2.3" width="7.1" height="4.7" fill="#fff" stroke="#222" stroke-width="0.9"/><rect x="6.4" y="-2.8" width="7.8" height="5.5" rx="2.2" fill="#858585" stroke="#222" stroke-width="0.9"/><line x1="7.9" y1="-2.8" x2="6.9" y2="2.8" stroke="#222" stroke-width="0.8"/><line x1="9.5" y1="-2.8" x2="8.5" y2="2.8" stroke="#222" stroke-width="0.8"/><line x1="11.1" y1="-2.8" x2="10.1" y2="2.8" stroke="#222" stroke-width="0.8"/><line x1="12.7" y1="-2.8" x2="11.7" y2="2.8" stroke="#222" stroke-width="0.8"/></g>
<polyline points="192.4,620.0 237.3,593.8" stroke="#555" stroke-width="1.1" fill="none" stroke-linejoin="round"/>
<polyline points="251.0,583.0 262.0,578.0" stroke="#555" stroke-width="1.1" fill="none" stroke-linejoin="round"/>
<polyline points="298.0,558.0 313.0,549.0" stroke="#555" stroke-width="1.1" fill="none" stroke-linejoin="round"/>
<polyline points="326.0,541.0 340.0,533.0" stroke="#555" stroke-width="1.1" fill="none" stroke-linejoin="round"/>
<path d="M391.8,541.5 Q392,533.8 407,533.5 Q416,533.8 421.5,538.5 L423,545.5 Q415,554.5 402,554.5 Q392.5,553.5 392,545.5 Z" fill="#fff" stroke="#333" stroke-width="1.1"/>
<path d="M392.2,542 Q396,548.8 407,548.8 Q418,548 421.5,538.5" fill="none" stroke="#333" stroke-width="1.1"/>
<path d="M395.5,544 Q397,540 405.5,540 Q414,540.5 416,545.5" fill="none" stroke="#444" stroke-width="0.9"/>
<path d="M421.5,538.5 Q423.5,533.6 426.5,534 Q429.2,536.5 428.2,542 Q426.5,546.3 423.6,546" fill="#fff" stroke="#333" stroke-width="1"/>
<path d="M423.2,539 L423.6,546" stroke="#333" stroke-width="0.9"/>
<path d="M462,587 A13.5,5.8 0 1 1 489,587 L489,591.5 A13.5,5.8 0 0 1 462,591.5 Z" fill="#fff" stroke="#333" stroke-width="1.1"/>
<ellipse cx="475.5" cy="588.0" rx="12.0" ry="4.6" transform="rotate(0.0 475.5 588.0)" stroke="#333" stroke-width="0.9" fill="none"/>
<g transform="translate(484.0 597.5) rotate(-27.6)"><rect x="0" y="-2.5" width="5.9" height="5.1" fill="#fff" stroke="#222" stroke-width="0.9"/><rect x="5.3" y="-3.0" width="6.5" height="6.0" rx="2.4" fill="#858585" stroke="#222" stroke-width="0.9"/><line x1="6.6" y1="-3.0" x2="5.6" y2="3.0" stroke="#222" stroke-width="0.8"/><line x1="7.9" y1="-3.0" x2="6.9" y2="3.0" stroke="#222" stroke-width="0.8"/><line x1="9.3" y1="-3.0" x2="8.3" y2="3.0" stroke="#222" stroke-width="0.8"/><line x1="10.6" y1="-3.0" x2="9.6" y2="3.0" stroke="#222" stroke-width="0.8"/></g>
<polygon points="464.5,611.5 464.5,646.5 464.6,647.2 464.9,647.8 465.4,648.5 466.1,649.1 466.9,649.7 468.0,650.2 469.1,650.6 470.4,651.0 471.8,651.3 473.2,651.5 474.8,651.7 476.3,651.7 477.8,651.7 479.4,651.5 480.8,651.3 482.2,651.0 483.5,650.6 484.6,650.2 485.7,649.7 486.5,649.1 487.2,648.5 487.7,647.8 488.0,647.2 488.1,646.5 488.1,611.5" fill="#fff" stroke="none"/>
<polyline points="464.5,611.5 464.5,646.5 464.6,647.2 464.9,647.8 465.4,648.5 466.1,649.1 466.9,649.7 468.0,650.2 469.1,650.6 470.4,651.0 471.8,651.3 473.2,651.5 474.8,651.7 476.3,651.7 477.8,651.7 479.4,651.5 480.8,651.3 482.2,651.0 483.5,650.6 484.6,650.2 485.7,649.7 486.5,649.1 487.2,648.5 487.7,647.8 488.0,647.2 488.1,646.5 488.1,611.5" stroke="#1a1a1a" stroke-width="1.3" fill="none" stroke-linejoin="round"/>
<ellipse cx="476.3" cy="611.5" rx="11.8" ry="5.2" transform="rotate(180.0 476.3 611.5)" stroke="#1a1a1a" stroke-width="1.3" fill="#fff"/>
<ellipse cx="476.3" cy="612.3" rx="10.5" ry="4.0" transform="rotate(0.0 476.3 612.3)" stroke="#1a1a1a" stroke-width="0.9" fill="none"/>
<polyline points="475.5,578.0 475.5,586.0" stroke="#999" stroke-width="1.0" fill="none" stroke-linejoin="round"/>
<polyline points="476.0,602.0 476.0,609.0" stroke="#999" stroke-width="1.0" fill="none" stroke-linejoin="round"/>
<path d="M511.5,523 Q509.5,528.5 514,530 Q519,531 523,528.5" fill="none" stroke="#222" stroke-width="1.1"/>
<path d="M516,524 l5.5,-0.5 l3.5,2 l-2,3.5 l-5,1 z" fill="#444" stroke="#222" stroke-width="0.8"/>
<polyline points="515.0,508.0 515.0,524.0" stroke="#777" stroke-width="0.9" fill="none" stroke-linejoin="round"/>
<rect x="512.2" y="534.5" width="5.2" height="18" rx="2.4" fill="#fff" stroke="#222" stroke-width="1"/>
<ellipse cx="514.8" cy="537.3" rx="1.8" ry="1.3" fill="#555"/>
<path d="M510.4,553 L511.5,552 L518.5,552 L519.5,553 L519.5,557.5 L510.4,557.5 Z" fill="#fff" stroke="#222" stroke-width="1"/>
<path d="M510.8,557.5 L510.8,564 Q514.8,566 518.9,564 L518.9,557.5" fill="#fff" stroke="#222" stroke-width="1"/>
<path d="M507.5,572 L512,568.7 L518,568.7 L522,572 L522,580 L507.5,580 Z" fill="#fff" stroke="#222" stroke-width="1"/>
<ellipse cx="514.7" cy="572" rx="4" ry="2.2" fill="none" stroke="#222" stroke-width="0.9"/>
<path d="M509.4,580 L509.4,587 Q514.7,590 520,587 L520,580" fill="#fff" stroke="#222" stroke-width="1"/>
<g transform="translate(265.8 647.2) rotate(-29)"><rect x="0" y="-1.1" width="10" height="2.2" fill="#fff" stroke="#222" stroke-width="0.8"/><rect x="8" y="-3.6" width="6" height="7.2" rx="1" fill="#fff" stroke="#222" stroke-width="0.9"/><rect x="13" y="-5.3" width="14" height="10.6" rx="2.5" fill="#fff" stroke="#222" stroke-width="1"/><line x1="17" y1="-5.3" x2="17" y2="5.3" stroke="#333" stroke-width="0.8"/><line x1="21" y1="-5.3" x2="21" y2="5.3" stroke="#333" stroke-width="0.8"/><rect x="27" y="-1.9" width="32" height="3.8" fill="#777" stroke="#222" stroke-width="0.9"/><line x1="28.0" y1="-1.9" x2="27.0" y2="1.9" stroke="#222" stroke-width="0.6"/><line x1="30.6" y1="-1.9" x2="29.6" y2="1.9" stroke="#222" stroke-width="0.6"/><line x1="33.2" y1="-1.9" x2="32.2" y2="1.9" stroke="#222" stroke-width="0.6"/><line x1="35.8" y1="-1.9" x2="34.8" y2="1.9" stroke="#222" stroke-width="0.6"/><line x1="38.4" y1="-1.9" x2="37.4" y2="1.9" stroke="#222" stroke-width="0.6"/><line x1="41.0" y1="-1.9" x2="40.0" y2="1.9" stroke="#222" stroke-width="0.6"/><line x1="43.6" y1="-1.9" x2="42.6" y2="1.9" stroke="#222" stroke-width="0.6"/><line x1="46.2" y1="-1.9" x2="45.2" y2="1.9" stroke="#222" stroke-width="0.6"/><line x1="48.8" y1="-1.9" x2="47.8" y2="1.9" stroke="#222" stroke-width="0.6"/><line x1="51.4" y1="-1.9" x2="50.4" y2="1.9" stroke="#222" stroke-width="0.6"/><line x1="54.0" y1="-1.9" x2="53.0" y2="1.9" stroke="#222" stroke-width="0.6"/><line x1="56.6" y1="-1.9" x2="55.6" y2="1.9" stroke="#222" stroke-width="0.6"/><rect x="58" y="-2.8" width="4" height="5.6" rx="1.2" fill="#666" stroke="#222" stroke-width="0.8"/><rect x="62" y="-3.5" width="14" height="7" rx="1" fill="#fff" stroke="#222" stroke-width="0.9"/><line x1="70" y1="-3.5" x2="70" y2="3.5" stroke="#444" stroke-width="0.7"/></g>
<polygon points="493.2,742.1 528.4,721.3 529.3,720.7 530.1,719.8 530.8,718.8 531.3,717.7 531.6,716.4 531.8,715.0 531.8,713.6 531.7,712.1 531.4,710.6 530.9,709.0 530.3,707.5 529.5,706.1 528.6,704.7 527.6,703.4 526.5,702.3 525.3,701.2 524.0,700.4 522.8,699.7 521.5,699.2 520.2,698.9 518.9,698.8 517.7,698.9 516.6,699.2 515.6,699.7 480.4,720.5" fill="#fff" stroke="none"/>
<polyline points="493.2,742.1 528.4,721.3 529.3,720.7 530.1,719.8 530.8,718.8 531.3,717.7 531.6,716.4 531.8,715.0 531.8,713.6 531.7,712.1 531.4,710.6 530.9,709.0 530.3,707.5 529.5,706.1 528.6,704.7 527.6,703.4 526.5,702.3 525.3,701.2 524.0,700.4 522.8,699.7 521.5,699.2 520.2,698.9 518.9,698.8 517.7,698.9 516.6,699.2 515.6,699.7 480.4,720.5" stroke="#1a1a1a" stroke-width="1.3" fill="none" stroke-linejoin="round"/>
<ellipse cx="486.8" cy="731.3" rx="12.6" ry="8.7" transform="rotate(59.4 486.8 731.3)" stroke="#1a1a1a" stroke-width="1.3" fill="#fff"/>
<ellipse cx="488.6" cy="730.3" rx="10.6" ry="7.0" transform="rotate(59.4 488.6 730.3)" stroke="#1a1a1a" stroke-width="0.9" fill="none"/>
<ellipse cx="458.0" cy="749.3" rx="16.5" ry="11.5" transform="rotate(57.8 458.0 749.3)" stroke="#3a3a3a" stroke-width="1.0" fill="none"/>
<ellipse cx="453.8" cy="752.0" rx="16.5" ry="11.5" transform="rotate(57.8 453.8 752.0)" stroke="#3a3a3a" stroke-width="1.15" fill="none"/>
<g transform="translate(459.7 735.2) rotate(-144.3)"><rect x="0" y="-3.0" width="14.9" height="6.0" fill="#fff" stroke="#222" stroke-width="0.9"/><rect x="13.4" y="-3.5" width="16.4" height="7.0" rx="2.8" fill="#858585" stroke="#222" stroke-width="0.9"/><line x1="16.6" y1="-3.5" x2="15.6" y2="3.5" stroke="#222" stroke-width="0.8"/><line x1="19.9" y1="-3.5" x2="18.9" y2="3.5" stroke="#222" stroke-width="0.8"/><line x1="23.3" y1="-3.5" x2="22.3" y2="3.5" stroke="#222" stroke-width="0.8"/><line x1="26.6" y1="-3.5" x2="25.6" y2="3.5" stroke="#222" stroke-width="0.8"/></g>
<ellipse cx="547.1" cy="693.1" rx="16.5" ry="11.5" transform="rotate(57.8 547.1 693.1)" stroke="#3a3a3a" stroke-width="1.0" fill="none"/>
<ellipse cx="542.9" cy="695.8" rx="16.5" ry="11.5" transform="rotate(57.8 542.9 695.8)" stroke="#3a3a3a" stroke-width="1.15" fill="none"/>
<g transform="translate(550.7 679.0) rotate(-148.6)"><rect x="0" y="-3.0" width="14.8" height="6.0" fill="#fff" stroke="#222" stroke-width="0.9"/><rect x="13.3" y="-3.5" width="16.2" height="7.0" rx="2.8" fill="#858585" stroke="#222" stroke-width="0.9"/><line x1="16.4" y1="-3.5" x2="15.4" y2="3.5" stroke="#222" stroke-width="0.8"/><line x1="19.8" y1="-3.5" x2="18.8" y2="3.5" stroke="#222" stroke-width="0.8"/><line x1="23.1" y1="-3.5" x2="22.1" y2="3.5" stroke="#222" stroke-width="0.8"/><line x1="26.4" y1="-3.5" x2="25.4" y2="3.5" stroke="#222" stroke-width="0.8"/></g>
<polyline points="471.0,741.0 487.0,731.0" stroke="#555" stroke-width="1.1" fill="none" stroke-linejoin="round"/>
<polyline points="532.0,703.0 545.0,694.5" stroke="#555" stroke-width="1.1" fill="none" stroke-linejoin="round"/>
<polygon points="622.3,681.3 606.9,726.7 606.8,727.4 606.9,728.1 607.2,729.0 607.8,729.8 608.5,730.7 609.4,731.5 610.5,732.4 611.8,733.3 613.2,734.1 614.7,734.8 616.3,735.5 618.0,736.1 619.6,736.6 621.3,737.1 623.0,737.4 624.6,737.6 626.1,737.7 627.5,737.7 628.8,737.6 629.9,737.3 630.8,737.0 631.6,736.5 632.1,736.0 632.5,735.3 647.9,689.9" fill="#fff" stroke="none"/>
<polyline points="622.3,681.3 606.9,726.7 606.8,727.4 606.9,728.1 607.2,729.0 607.8,729.8 608.5,730.7 609.4,731.5 610.5,732.4 611.8,733.3 613.2,734.1 614.7,734.8 616.3,735.5 618.0,736.1 619.6,736.6 621.3,737.1 623.0,737.4 624.6,737.6 626.1,737.7 627.5,737.7 628.8,737.6 629.9,737.3 630.8,737.0 631.6,736.5 632.1,736.0 632.5,735.3 647.9,689.9" stroke="#1a1a1a" stroke-width="1.3" fill="none" stroke-linejoin="round"/>
<ellipse cx="635.1" cy="685.6" rx="13.5" ry="5.4" transform="rotate(-161.3 635.1 685.6)" stroke="#1a1a1a" stroke-width="1.3" fill="#fff"/>
<polyline points="636.5,675.0 635.0,688.0" stroke="#777" stroke-width="1.0" fill="none" stroke-linejoin="round"/>
<path d="M601.5,745.5 A15.5,5.4 -5 1 1 632.5,745 L632.5,749.5 A15.5,5.4 -5 0 1 601.5,750 Z" fill="#fff" stroke="#333" stroke-width="1.1"/>
<ellipse cx="617.0" cy="746.5" rx="13.5" ry="4.2" transform="rotate(-5.0 617.0 746.5)" stroke="#333" stroke-width="0.9" fill="none"/>
<g transform="translate(607.0 750.0) rotate(-148.2)"><rect x="0" y="-1.9" width="6.2" height="3.8" fill="#fff" stroke="#222" stroke-width="0.9"/><rect x="5.6" y="-2.2" width="6.8" height="4.5" rx="1.8" fill="#858585" stroke="#222" stroke-width="0.9"/><line x1="6.9" y1="-2.2" x2="5.9" y2="2.2" stroke="#222" stroke-width="0.8"/><line x1="8.3" y1="-2.2" x2="7.3" y2="2.2" stroke="#222" stroke-width="0.8"/><line x1="9.6" y1="-2.2" x2="8.6" y2="2.2" stroke="#222" stroke-width="0.8"/><line x1="11.0" y1="-2.2" x2="10.0" y2="2.2" stroke="#222" stroke-width="0.8"/></g>
<polyline points="619.0,738.0 618.0,750.0" stroke="#777" stroke-width="1.0" fill="none" stroke-linejoin="round"/>
<path d="M598.5,764.0 C597.8,766.2 595.3,772.8 594.0,777.0 C592.7,781.2 591.5,784.7 590.7,789.2 C589.9,793.7 589.5,798.9 589.4,804.0 C589.3,809.1 589.3,814.9 590.2,819.7 C591.1,824.5 592.2,827.7 595.0,832.7 C597.8,837.8 601.9,842.9 607.2,850.0 C612.5,857.1 623.5,871.2 626.7,875.5" stroke="#1a1a1a" stroke-width="1.2" fill="none" />
<path d="M626.7,875.5 L597.1,896.4" stroke="#1a1a1a" stroke-width="1.2" fill="none" />
<path d="M623.3,771.8 C622.7,773.4 620.7,778.2 619.5,781.5 C618.3,784.8 616.8,788.3 615.9,791.8 C615.0,795.3 614.4,798.2 614.2,802.3 C614.1,806.4 614.1,812.6 615.0,816.2 C615.9,819.8 615.5,818.4 619.4,824.0 C623.3,829.6 633.9,843.8 638.6,850.0 C643.3,856.2 645.5,857.0 647.7,861.5 C649.9,866.0 652.3,872.0 652.0,877.2 C651.7,882.4 650.7,887.7 645.9,892.9 C641.1,898.1 630.0,904.8 623.3,908.6 C616.6,912.4 608.7,914.4 605.8,915.5" stroke="#1a1a1a" stroke-width="1.2" fill="none" />
<path d="M598.5,765.5 Q598,771 610,773.5 Q622,776 623.5,771" stroke="#333" stroke-width="1" fill="none"/>
<ellipse cx="611.1" cy="765.3" rx="12.9" ry="5.0" transform="rotate(14.0 611.1 765.3)" stroke="#1a1a1a" stroke-width="1.2" fill="#fff"/>
<ellipse cx="611.6" cy="765.8" rx="11.0" ry="3.6" transform="rotate(14.0 611.6 765.8)" stroke="#1a1a1a" stroke-width="0.8" fill="none"/>
<path d="M601,898 Q607,901 607.5,911 Q606,918 602,919.5" stroke="#222" stroke-width="1.1" fill="none"/>
<ellipse cx="598.0" cy="908.6" rx="7.8" ry="10.5" transform="rotate(-30.0 598.0 908.6)" stroke="#1a1a1a" stroke-width="1.2" fill="#fff"/>
<ellipse cx="599.0" cy="908.0" rx="6.0" ry="8.5" transform="rotate(-30.0 599.0 908.0)" stroke="#1a1a1a" stroke-width="0.9" fill="none"/>
<polyline points="611.0,755.0 611.0,766.0" stroke="#777" stroke-width="1.0" fill="none" stroke-linejoin="round"/>
<path d="M579,884 L582,879 L590,878.5 L595,884 L592,889 L583,889.5 Z" fill="#fff" stroke="#333" stroke-width="1"/>
<ellipse cx="590" cy="884" rx="5" ry="5.3" fill="#fff" stroke="#333" stroke-width="1"/>
<polygon points="520.2,967.7 549.2,951.9 550.3,951.2 551.2,950.3 552.0,949.3 552.6,948.1 553.1,946.8 553.4,945.3 553.5,943.8 553.4,942.2 553.2,940.6 552.8,939.0 552.2,937.4 551.4,935.9 550.5,934.5 549.5,933.1 548.4,931.9 547.2,930.8 545.9,929.9 544.6,929.2 543.2,928.6 541.8,928.3 540.5,928.2 539.2,928.3 537.9,928.6 536.8,929.1 507.8,944.9" fill="#fff" stroke="none"/>
<polyline points="520.2,967.7 549.2,951.9 550.3,951.2 551.2,950.3 552.0,949.3 552.6,948.1 553.1,946.8 553.4,945.3 553.5,943.8 553.4,942.2 553.2,940.6 552.8,939.0 552.2,937.4 551.4,935.9 550.5,934.5 549.5,933.1 548.4,931.9 547.2,930.8 545.9,929.9 544.6,929.2 543.2,928.6 541.8,928.3 540.5,928.2 539.2,928.3 537.9,928.6 536.8,929.1 507.8,944.9" stroke="#1a1a1a" stroke-width="1.2" fill="none" stroke-linejoin="round"/>
<ellipse cx="514.0" cy="956.3" rx="13.0" ry="9.6" transform="rotate(61.4 514.0 956.3)" stroke="#1a1a1a" stroke-width="1.2" fill="#fff"/>
<ellipse cx="516.0" cy="955.3" rx="11.0" ry="7.6" transform="rotate(62.0 516.0 955.3)" stroke="#1a1a1a" stroke-width="0.9" fill="none"/>
<ellipse cx="489.2" cy="967.7" rx="16.6" ry="11.5" transform="rotate(61.8 489.2 967.7)" stroke="#3a3a3a" stroke-width="1.0" fill="none"/>
<ellipse cx="485.2" cy="969.8" rx="16.6" ry="11.5" transform="rotate(61.8 485.2 969.8)" stroke="#3a3a3a" stroke-width="1.15" fill="none"/>
<ellipse cx="573.7" cy="922.4" rx="16.6" ry="11.5" transform="rotate(61.8 573.7 922.4)" stroke="#3a3a3a" stroke-width="1.0" fill="none"/>
<ellipse cx="569.7" cy="924.5" rx="16.6" ry="11.5" transform="rotate(61.8 569.7 924.5)" stroke="#3a3a3a" stroke-width="1.15" fill="none"/>
<path d="M478,983 L490,988" stroke="#444" stroke-width="3.2"/>
<path d="M563,938 L575,942" stroke="#444" stroke-width="3.2"/>
<polyline points="462.7,984.1 483.6,971.9" stroke="#555" stroke-width="1.1" fill="none" stroke-linejoin="round"/>
<polyline points="500.0,965.0 515.0,956.0" stroke="#555" stroke-width="1.1" fill="none" stroke-linejoin="round"/>
<polyline points="553.0,934.0 568.0,925.0" stroke="#555" stroke-width="1.1" fill="none" stroke-linejoin="round"/>
<polyline points="585.0,917.0 597.0,910.0" stroke="#555" stroke-width="1.1" fill="none" stroke-linejoin="round"/>
<polygon points="527.3,1048.8 559.9,1030.1 561.0,1029.3 562.0,1028.4 562.9,1027.2 563.6,1026.0 564.2,1024.6 564.5,1023.1 564.7,1021.6 564.6,1020.0 564.4,1018.4 564.0,1016.8 563.4,1015.2 562.7,1013.7 561.8,1012.3 560.7,1011.0 559.6,1009.9 558.3,1008.9 556.9,1008.1 555.5,1007.4 554.0,1007.0 552.6,1006.7 551.1,1006.7 549.7,1006.9 548.4,1007.3 547.1,1007.9 514.5,1026.6" fill="#fff" stroke="none"/>
<polyline points="527.3,1048.8 559.9,1030.1 561.0,1029.3 562.0,1028.4 562.9,1027.2 563.6,1026.0 564.2,1024.6 564.5,1023.1 564.7,1021.6 564.6,1020.0 564.4,1018.4 564.0,1016.8 563.4,1015.2 562.7,1013.7 561.8,1012.3 560.7,1011.0 559.6,1009.9 558.3,1008.9 556.9,1008.1 555.5,1007.4 554.0,1007.0 552.6,1006.7 551.1,1006.7 549.7,1006.9 548.4,1007.3 547.1,1007.9 514.5,1026.6" stroke="#1a1a1a" stroke-width="1.2" fill="none" stroke-linejoin="round"/>
<ellipse cx="520.9" cy="1037.7" rx="12.8" ry="10.6" transform="rotate(60.2 520.9 1037.7)" stroke="#1a1a1a" stroke-width="1.2" fill="#fff"/>
<ellipse cx="522.8" cy="1036.7" rx="10.8" ry="8.6" transform="rotate(60.0 522.8 1036.7)" stroke="#1a1a1a" stroke-width="0.9" fill="none"/>
<ellipse cx="491.3" cy="1055.5" rx="17.0" ry="12.5" transform="rotate(59.9 491.3 1055.5)" stroke="#3a3a3a" stroke-width="1.0" fill="none"/>
<ellipse cx="487.0" cy="1058.0" rx="17.0" ry="12.5" transform="rotate(59.9 487.0 1058.0)" stroke="#3a3a3a" stroke-width="1.15" fill="none"/>
<g transform="translate(493.2 1041.0) rotate(-146.7)"><rect x="0" y="-3.0" width="14.6" height="6.0" fill="#fff" stroke="#222" stroke-width="0.9"/><rect x="13.1" y="-3.5" width="16.0" height="7.0" rx="2.8" fill="#858585" stroke="#222" stroke-width="0.9"/><line x1="16.2" y1="-3.5" x2="15.2" y2="3.5" stroke="#222" stroke-width="0.8"/><line x1="19.5" y1="-3.5" x2="18.5" y2="3.5" stroke="#222" stroke-width="0.8"/><line x1="22.8" y1="-3.5" x2="21.8" y2="3.5" stroke="#222" stroke-width="0.8"/><line x1="26.1" y1="-3.5" x2="25.1" y2="3.5" stroke="#222" stroke-width="0.8"/></g>
<ellipse cx="590.3" cy="998.0" rx="17.0" ry="12.5" transform="rotate(59.9 590.3 998.0)" stroke="#3a3a3a" stroke-width="1.0" fill="none"/>
<ellipse cx="586.0" cy="1000.5" rx="17.0" ry="12.5" transform="rotate(59.9 586.0 1000.5)" stroke="#3a3a3a" stroke-width="1.15" fill="none"/>
<g transform="translate(592.3 982.4) rotate(-150.4)"><rect x="0" y="-3.0" width="14.1" height="6.0" fill="#fff" stroke="#222" stroke-width="0.9"/><rect x="12.7" y="-3.5" width="15.5" height="7.0" rx="2.8" fill="#858585" stroke="#222" stroke-width="0.9"/><line x1="15.7" y1="-3.5" x2="14.7" y2="3.5" stroke="#222" stroke-width="0.8"/><line x1="18.8" y1="-3.5" x2="17.8" y2="3.5" stroke="#222" stroke-width="0.8"/><line x1="22.0" y1="-3.5" x2="21.0" y2="3.5" stroke="#222" stroke-width="0.8"/><line x1="25.2" y1="-3.5" x2="24.2" y2="3.5" stroke="#222" stroke-width="0.8"/></g>
<polyline points="453.8,1075.0 489.0,1056.9" stroke="#555" stroke-width="1.1" fill="none" stroke-linejoin="round"/>
<polyline points="504.0,1048.0 521.0,1038.0" stroke="#555" stroke-width="1.1" fill="none" stroke-linejoin="round"/>
<polyline points="567.0,1011.0 587.0,1000.0" stroke="#555" stroke-width="1.1" fill="none" stroke-linejoin="round"/>
<polyline points="605.0,990.0 624.0,979.5" stroke="#555" stroke-width="1.1" fill="none" stroke-linejoin="round"/>
<path d="M808.9,705.1 C808.3,707.2 811.0,710.6 805.1,717.7 C799.2,724.8 781.9,738.7 773.7,747.9 C765.5,757.1 759.8,765.1 756.0,773.1 C752.2,781.1 752.0,779.9 751.2,795.7 C750.4,811.5 751.2,855.7 751.2,867.7" stroke="#1a1a1a" stroke-width="1.2" fill="none" />
<path d="M751.2,867.7 C749.3,870.1 744.0,877.2 740.0,882.0 C736.0,886.8 735.6,889.6 727.3,896.4 C719.0,903.2 700.7,916.0 690.0,923.0 C679.3,930.0 669.7,934.8 662.9,938.6 C656.1,942.4 652.1,943.9 649.0,946.0 C645.9,948.1 649.0,948.2 644.2,951.5 C639.4,954.8 624.0,963.2 620.0,965.5" stroke="#1a1a1a" stroke-width="1.2" fill="none" />
<path d="M837.9,706.4 C837.7,708.7 839.3,713.7 836.6,720.2 C833.9,726.7 828.6,737.0 821.5,745.4 C814.4,753.8 800.3,763.0 793.8,770.5 C787.3,778.0 784.6,783.1 782.5,790.7 C780.4,798.3 781.6,803.1 781.4,815.9 C781.2,828.7 782.1,856.2 781.4,867.7 C780.7,879.2 782.6,876.2 777.3,884.7 C772.0,893.2 759.1,909.8 749.6,918.8 C740.1,927.8 729.0,932.4 720.0,938.4 C711.0,944.4 699.6,952.1 695.5,954.9" stroke="#1a1a1a" stroke-width="1.2" fill="none" />
<path d="M683.9,960.7 C680.7,962.6 669.0,969.7 664.5,971.8 C660.0,973.9 662.0,971.2 657.0,973.5 C652.0,975.8 638.2,983.8 634.5,985.8" stroke="#1a1a1a" stroke-width="1.2" fill="none" />
<path d="M808.9,705.1 C809.4,703.8 809.9,698.9 812.0,697.0 C814.1,695.1 818.2,693.8 821.5,693.8 C824.8,693.8 829.3,694.9 832.0,697.0 C834.7,699.1 836.9,704.8 837.9,706.4" stroke="#1a1a1a" stroke-width="1.2" fill="none" />
<path d="M627,966.5 Q634,970 634.5,981 Q633,988.5 629,990" stroke="#222" stroke-width="1.1" fill="none"/>
<ellipse cx="623.9" cy="978.2" rx="8.8" ry="12.6" transform="rotate(-30.0 623.9 978.2)" stroke="#1a1a1a" stroke-width="1.2" fill="#fff"/>
<ellipse cx="625.0" cy="977.5" rx="7.0" ry="10.5" transform="rotate(-30.0 625.0 977.5)" stroke="#1a1a1a" stroke-width="0.9" fill="none"/>
<g transform="translate(682.5 955.5) rotate(33)"><rect x="0" y="-3.6" width="14" height="7.2" rx="3" fill="#fff" stroke="#222" stroke-width="1"/><ellipse cx="12" cy="0" rx="2.2" ry="3.4" fill="#555" stroke="#222" stroke-width="0.8"/></g>
<polyline points="600.0,992.0 623.9,979.5" stroke="#555" stroke-width="1.1" fill="none" stroke-linejoin="round"/>
<polygon points="867.1,636.4 874.8,607.2 875.0,605.6 875.0,603.9 874.8,602.3 874.2,600.6 873.4,599.0 872.4,597.5 871.1,596.0 869.6,594.7 868.0,593.5 866.1,592.5 864.2,591.7 862.2,591.0 860.1,590.6 858.0,590.3 855.9,590.3 853.9,590.5 851.9,591.0 850.1,591.6 848.4,592.4 846.9,593.4 845.6,594.6 844.6,595.9 843.8,597.3 843.2,598.8 835.5,628.0" fill="#fff" stroke="none"/>
<polyline points="867.1,636.4 874.8,607.2 875.0,605.6 875.0,603.9 874.8,602.3 874.2,600.6 873.4,599.0 872.4,597.5 871.1,596.0 869.6,594.7 868.0,593.5 866.1,592.5 864.2,591.7 862.2,591.0 860.1,590.6 858.0,590.3 855.9,590.3 853.9,590.5 851.9,591.0 850.1,591.6 848.4,592.4 846.9,593.4 845.6,594.6 844.6,595.9 843.8,597.3 843.2,598.8 835.5,628.0" stroke="#1a1a1a" stroke-width="1.3" fill="none" stroke-linejoin="round"/>
<ellipse cx="851.3" cy="632.2" rx="16.3" ry="12.4" transform="rotate(14.8 851.3 632.2)" stroke="#1a1a1a" stroke-width="1.3" fill="#fff"/>
<ellipse cx="868.9" cy="568.2" rx="20.0" ry="9.3" transform="rotate(16.8 868.9 568.2)" stroke="#3a3a3a" stroke-width="1.0" fill="none"/>
<ellipse cx="867.5" cy="573.0" rx="20.0" ry="9.3" transform="rotate(16.8 867.5 573.0)" stroke="#3a3a3a" stroke-width="1.15" fill="none"/>
<g transform="translate(851.3 556.0) rotate(-6.3)"><rect x="0" y="-3.2" width="12.8" height="6.4" fill="#fff" stroke="#222" stroke-width="0.9"/><rect x="11.5" y="-3.8" width="14.1" height="7.5" rx="3.0" fill="#858585" stroke="#222" stroke-width="0.9"/><line x1="14.3" y1="-3.8" x2="13.3" y2="3.8" stroke="#222" stroke-width="0.8"/><line x1="17.2" y1="-3.8" x2="16.2" y2="3.8" stroke="#222" stroke-width="0.8"/><line x1="20.0" y1="-3.8" x2="19.0" y2="3.8" stroke="#222" stroke-width="0.8"/><line x1="22.9" y1="-3.8" x2="21.9" y2="3.8" stroke="#222" stroke-width="0.8"/></g>
<ellipse cx="837.9" cy="672.2" rx="20.0" ry="12.5" transform="rotate(16.8 837.9 672.2)" stroke="#3a3a3a" stroke-width="1.0" fill="none"/>
<ellipse cx="836.5" cy="677.0" rx="20.0" ry="12.5" transform="rotate(16.8 836.5 677.0)" stroke="#3a3a3a" stroke-width="1.15" fill="none"/>
<g transform="translate(823.4 658.5) rotate(-1.1)"><rect x="0" y="-3.2" width="13.2" height="6.4" fill="#fff" stroke="#222" stroke-width="0.9"/><rect x="11.8" y="-3.8" width="14.5" height="7.5" rx="3.0" fill="#858585" stroke="#222" stroke-width="0.9"/><line x1="14.6" y1="-3.8" x2="13.6" y2="3.8" stroke="#222" stroke-width="0.8"/><line x1="17.6" y1="-3.8" x2="16.6" y2="3.8" stroke="#222" stroke-width="0.8"/><line x1="20.6" y1="-3.8" x2="19.6" y2="3.8" stroke="#222" stroke-width="0.8"/><line x1="23.5" y1="-3.8" x2="22.5" y2="3.8" stroke="#222" stroke-width="0.8"/></g>
<polyline points="863.0,584.0 861.0,593.0" stroke="#555" stroke-width="1.1" fill="none" stroke-linejoin="round"/>
<polyline points="851.0,634.0 847.0,650.0" stroke="#555" stroke-width="1.1" fill="none" stroke-linejoin="round"/>
<polyline points="835.0,684.0 832.0,695.0" stroke="#555" stroke-width="1.1" fill="none" stroke-linejoin="round"/>
</g>
<line x1="623.2" y1="323.7" x2="629.7" y2="349.2" stroke="#333" stroke-width="1.0"/>
<line x1="687.8" y1="319.0" x2="683.2" y2="346.9" stroke="#333" stroke-width="1.0"/>
<line x1="756.8" y1="319.0" x2="748.7" y2="342.3" stroke="#333" stroke-width="1.0"/>
<line x1="750.4" y1="499.3" x2="791.0" y2="490.6" stroke="#333" stroke-width="1.0"/>
<line x1="434.0" y1="387.1" x2="432.1" y2="416.9" stroke="#333" stroke-width="1.0"/>
<line x1="274.9" y1="425.0" x2="283.0" y2="440.0" stroke="#333" stroke-width="1.0"/>
<line x1="355.7" y1="476.6" x2="361.8" y2="508.8" stroke="#333" stroke-width="1.0"/>
<line x1="401.9" y1="555.0" x2="397.5" y2="576.7" stroke="#333" stroke-width="1.0"/>
<line x1="438.5" y1="589.0" x2="462.9" y2="591.6" stroke="#333" stroke-width="1.0"/>
<line x1="261.3" y1="530.3" x2="269.8" y2="559.7" stroke="#333" stroke-width="1.0"/>
<line x1="218.0" y1="559.7" x2="229.6" y2="579.8" stroke="#333" stroke-width="1.0"/>
<line x1="300.8" y1="517.1" x2="305.5" y2="534.9" stroke="#333" stroke-width="1.0"/>
<line x1="307.2" y1="629.2" x2="317.6" y2="644.9" stroke="#333" stroke-width="1.0"/>
<line x1="523.9" y1="525.2" x2="553.9" y2="524.2" stroke="#333" stroke-width="1.0"/>
<line x1="517.1" y1="553.2" x2="540.4" y2="550.3" stroke="#333" stroke-width="1.0"/>
<line x1="521.0" y1="580.3" x2="543.3" y2="576.5" stroke="#333" stroke-width="1.0"/>
<line x1="436.8" y1="628.4" x2="463.9" y2="628.4" stroke="#333" stroke-width="1.0"/>
<line x1="523.9" y1="635.5" x2="527.8" y2="660.0" stroke="#333" stroke-width="1.0"/>
<line x1="485.8" y1="673.2" x2="497.5" y2="708.1" stroke="#333" stroke-width="1.0"/>
<line x1="425.8" y1="700.7" x2="437.4" y2="719.7" stroke="#333" stroke-width="1.0"/>
<line x1="642.1" y1="714.3" x2="665.3" y2="717.4" stroke="#333" stroke-width="1.0"/>
<line x1="632.0" y1="754.6" x2="660.7" y2="761.5" stroke="#333" stroke-width="1.0"/>
<line x1="555.3" y1="811.3" x2="589.3" y2="814.1" stroke="#333" stroke-width="1.0"/>
<line x1="587.5" y1="865.9" x2="587.5" y2="879.8" stroke="#333" stroke-width="1.0"/>
<line x1="556.2" y1="889.4" x2="562.3" y2="911.2" stroke="#333" stroke-width="1.0"/>
<line x1="515.8" y1="906.6" x2="523.6" y2="934.5" stroke="#333" stroke-width="1.0"/>
<line x1="469.6" y1="931.0" x2="479.2" y2="955.4" stroke="#333" stroke-width="1.0"/>
<line x1="597.6" y1="1014.3" x2="616.8" y2="1039.9" stroke="#333" stroke-width="1.0"/>
<line x1="546.5" y1="1039.9" x2="566.7" y2="1070.8" stroke="#333" stroke-width="1.0"/>
<line x1="497.5" y1="1071.8" x2="506.0" y2="1093.1" stroke="#333" stroke-width="1.0"/>
<line x1="887.7" y1="575.7" x2="899.3" y2="575.7" stroke="#333" stroke-width="1.0"/>
<line x1="872.2" y1="622.5" x2="890.7" y2="623.4" stroke="#333" stroke-width="1.0"/>
<line x1="855.9" y1="682.6" x2="887.7" y2="686.4" stroke="#333" stroke-width="1.0"/>
<line x1="781.2" y1="852.3" x2="827.8" y2="857.4" stroke="#333" stroke-width="1.0"/>
<g fill="#111" font-family="Liberation Sans, sans-serif">
<text x="354.0" y="473.1" text-anchor="middle" font-size="15">1</text>
<text x="257.6" y="527.2" text-anchor="middle" font-size="15">2</text>
<text x="213.7" y="552.7" text-anchor="middle" font-size="15">3</text>
<text x="299.6" y="510.1" text-anchor="middle" font-size="15">4</text>
<text x="427.1" y="631.7" text-anchor="middle" font-size="15">5</text>
<text x="426.6" y="593.0" text-anchor="middle" font-size="15">6</text>
<text x="395.4" y="595.0" text-anchor="middle" font-size="15">7</text>
<text x="435.1" y="380.3" text-anchor="middle" font-size="15">8</text>
<text x="272.1" y="418.3" text-anchor="middle" font-size="15">9</text>
<text x="566.5" y="529.0" text-anchor="middle" font-size="15">10</text>
<text x="556.8" y="580.3" text-anchor="middle" font-size="15">11</text>
<text x="556.3" y="552.3" text-anchor="middle" font-size="15">12</text>
<text x="810.0" y="497.3" text-anchor="middle" font-size="15">13</text>
<text x="689.5" y="309.0" text-anchor="middle" font-size="15">14</text>
<text x="759.6" y="309.0" text-anchor="middle" font-size="15">15</text>
<text x="616.0" y="312.0" text-anchor="middle" font-size="15">16</text>
<text x="481.9" y="666.5" text-anchor="middle" font-size="15">17</text>
<text x="521.5" y="626.8" text-anchor="middle" font-size="15">18</text>
<text x="424.4" y="693.6" text-anchor="middle" font-size="15">19</text>
<text x="540.1" y="815.3" text-anchor="middle" font-size="15">20</text>
<text x="678.9" y="722.8" text-anchor="middle" font-size="15">21</text>
<text x="671.5" y="769.3" text-anchor="middle" font-size="15">22</text>
<text x="512.4" y="900.5" text-anchor="middle" font-size="15">23</text>
<text x="552.8" y="883.1" text-anchor="middle" font-size="15">24</text>
<text x="462.6" y="924.9" text-anchor="middle" font-size="15">25</text>
<text x="842.8" y="864.9" text-anchor="middle" font-size="15">26</text>
<text x="902.0" y="629.9" text-anchor="middle" font-size="15">27</text>
<text x="902.0" y="694.2" text-anchor="middle" font-size="15">28</text>
<text x="908.5" y="581.1" text-anchor="middle" font-size="15">29</text>
<text x="575.2" y="1087.8" text-anchor="middle" font-size="15">30</text>
<text x="630.1" y="1052.6" text-anchor="middle" font-size="15">31</text>
<text x="511.3" y="1112.3" text-anchor="middle" font-size="15">32</text>
<text x="588.5" y="859.8" text-anchor="middle" font-size="15">33</text>
<text x="325.1" y="659.7" text-anchor="middle" font-size="15">34</text>
</g>
<g id="logo" fill="none" stroke="#0b4f93" stroke-width="2.9">
<circle cx="1000.8" cy="1420.8" r="5.9"/><circle cx="1018.6" cy="1420.8" r="5.9"/>
<circle cx="1000.8" cy="1438.2" r="5.9"/><circle cx="1018.6" cy="1438.2" r="5.9"/>
<line x1="996.5" y1="1425" x2="1005.3" y2="1416.4"/><line x1="1014.2" y1="1416.4" x2="1023" y2="1425"/>
<line x1="996.5" y1="1434" x2="1005.3" y2="1442.6"/><line x1="1014.2" y1="1442.6" x2="1023" y2="1434"/>
</g>
<g fill="#0b4f93">
<path d="M1006,1417 L1009.7,1412.4 L1013.4,1417 L1009.7,1421 Z"/>
<path d="M1006,1442 L1009.7,1446.6 L1013.4,1442 L1009.7,1438 Z"/>
<path d="M997.5,1425.8 L993.0,1429.5 L997.5,1433.2 L1001,1429.5 Z"/>
<path d="M1021.9,1425.8 L1026.4,1429.5 L1021.9,1433.2 L1018.4,1429.5 Z"/>
</g>
<text x="992" y="1458.2" font-family="Liberation Sans, sans-serif" font-size="10.8" font-weight="bold" fill="#0b4f93" textLength="36" lengthAdjust="spacingAndGlyphs">Perkins</text>
</svg>
</body></html>
